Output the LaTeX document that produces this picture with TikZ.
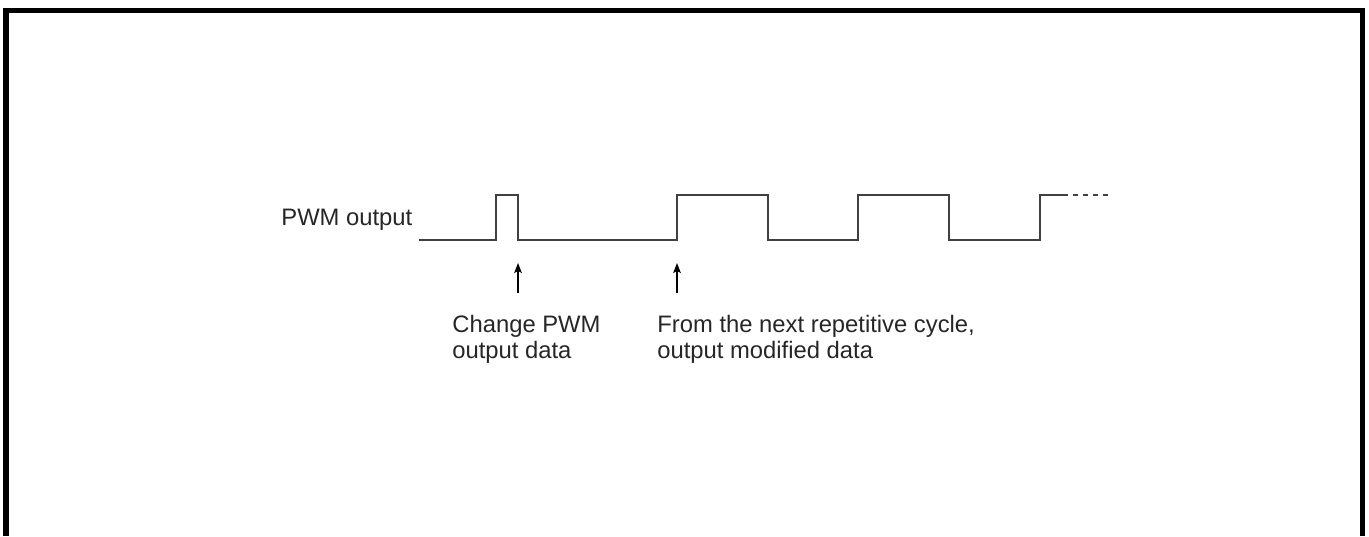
\documentclass[tikz,border=0pt]{standalone}
\usepackage{fontspec}
\setmainfont{Liberation Sans}
\usetikzlibrary{positioning, arrows.meta}

\begin{document}
\begin{tikzpicture}[>={Stealth[length=5pt, width=3.8pt, inset=1pt]}, x=0.5pt, y=-0.5pt,
    lbl/.style={inner sep=0pt, font=\fontsize{11.9}{13}\selectfont, text=black!85, align=left},
    wave/.style={line width=1pt, draw=black!75},
    markarrow/.style={->, line width=0.6pt}]
    \useasboundingbox (0,0) rectangle (1369,536);
    % 1. Khung
    \draw[line width=2.8pt] (6,536) -- (6,10.5) -- (1362.5,10.5) -- (1362.5,536);

    % 2. Nhãn
    \node[lbl, anchor=base west] (pwm) at (281,225) {PWM output};
    \node[lbl, anchor=north west] (chg) at (452,315) {Change PWM\\output data};
    \node[lbl, anchor=north west] (nxt) at (657,315) {From the next repetitive cycle,\\output modified data};

    % 3. Dạng sóng PWM
    \coordinate (start) at (419,240);
    \coordinate (fall1) at (518,240);
    \coordinate (rise2) at (677,240);
    \coordinate (tail) at (1063,195);
    \draw[wave] (start) -- (496,240) -- (496,195) -- (518,195) -- (fall1)
        -- (rise2) -- (677,195) -- (768,195) -- (768,240)
        -- (858,240) -- (858,195) -- (949,195) -- (949,240)
        -- (1040,240) -- (1040,195) -- (tail);
    \draw[wave, line width=0.7pt, dash pattern=on 2.5pt off 2.5pt] (tail) -- (1108,195);

    % 4. Mũi tên
    \coordinate (a1) at (518,293);
    \coordinate (a2) at (677,293);
    \draw[markarrow] (a1) -- (518,263);
    \draw[markarrow] (a2) -- (677,263);
\end{tikzpicture}
\end{document}
